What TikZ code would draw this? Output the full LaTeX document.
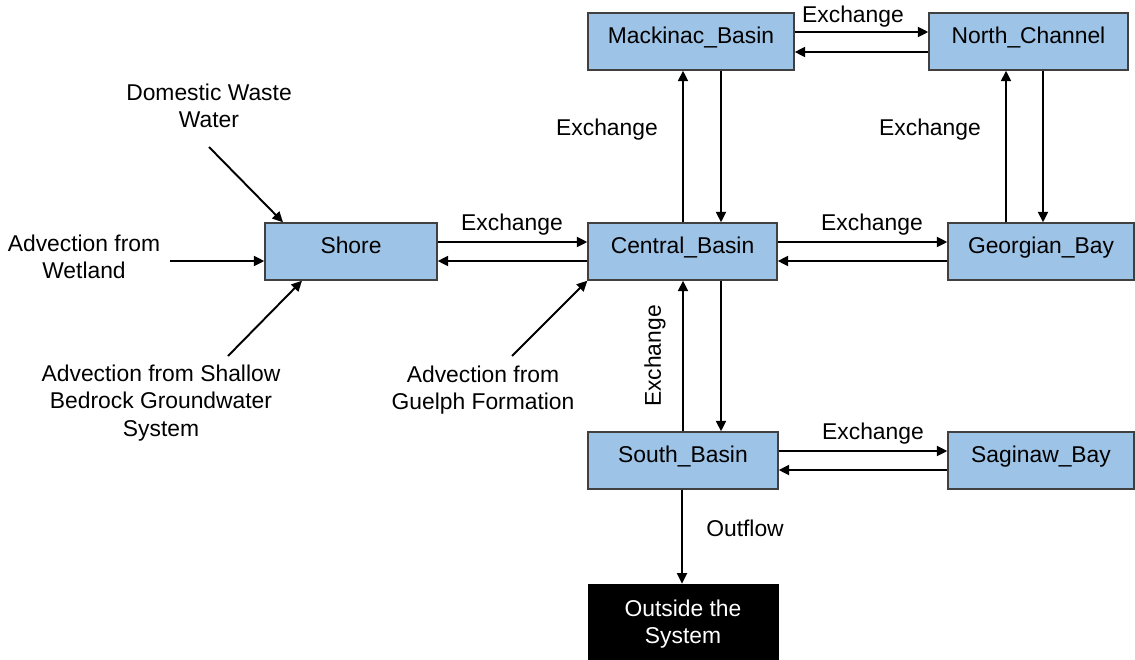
\documentclass[tikz,border=0pt]{standalone}
\usepackage{fontspec}
\setmainfont{Liberation Sans}
\usetikzlibrary{arrows.meta}
\definecolor{basin}{RGB}{157,195,230}
\tikzset{
  segment/.style={draw=black!75, line width=0.8pt, fill=basin, minimum height=1.14cm, inner sep=0pt,
    text height=9.5pt, text depth=6.8pt},
  flow/.style={-{Triangle[length=2.1mm,width=2mm]}, line width=1.1pt},
  lbl/.style={align=center, inner sep=0pt}
}
\begin{document}
\begin{tikzpicture}[x=0.02cm, y=-0.02cm, font=\fontsize{13}{15.5}\selectfont]
\useasboundingbox (0,0) rectangle (1135,659);
% compartments
\node[segment, minimum width=4.12cm] (mack) at (691,41.5) {Mackinac\_Basin};
\node[segment, minimum width=3.98cm] (north) at (1028.5,41.5) {North\_Channel};
\node[segment, minimum width=3.44cm] (shore) at (351,251.5) {Shore};
\node[segment, minimum width=3.78cm] (central) at (682.5,251.5) {Central\_Basin};
\node[segment, minimum width=3.72cm] (georgian) at (1041,251.5) {Georgian\_Bay};
\node[segment, minimum width=3.8cm] (south) at (683,460.5) {South\_Basin};
\node[segment, minimum width=3.72cm] (saginaw) at (1041,460.5) {Saginaw\_Bay};
\node[draw=black, fill=black, text=white, align=center, minimum width=3.8cm, minimum height=1.6cm, inner sep=0pt] (outside) at (683,624) {Outside the\\System};

% exchanges between compartments
\draw[flow] (mack.east |- 0,32) -- (north.west |- 0,32);
\draw[flow] (north.west |- 0,52) -- (mack.east |- 0,52);
\draw[flow] (central.north -| 683,0) -- (mack.south -| 683,0);
\draw[flow] (mack.south -| 721,0) -- (central.north -| 721,0);
\draw[flow] (georgian.north -| 1006,0) -- (north.south -| 1006,0);
\draw[flow] (north.south -| 1043,0) -- (georgian.north -| 1043,0);
\draw[flow] (shore.east |- 0,242) -- (central.west |- 0,242);
\draw[flow] (central.west |- 0,261) -- (shore.east |- 0,261);
\draw[flow] (central.east |- 0,242) -- (georgian.west |- 0,242);
\draw[flow] (georgian.west |- 0,261) -- (central.east |- 0,261);
\draw[flow] (south.north -| 683,0) -- (central.south -| 683,0);
\draw[flow] (central.south -| 721,0) -- (south.north -| 721,0);
\draw[flow] (south.east |- 0,451) -- (saginaw.west |- 0,451);
\draw[flow] (saginaw.west |- 0,470) -- (south.east |- 0,470);
\draw[flow] (south.south -| 682,0) -- (outside.north -| 682,0);

% loads from outside
\coordinate (dww) at (209,147);
\coordinate (wet) at (170,261);
\coordinate (shal) at (228,356);
\coordinate (guel) at (512,356);
\draw[flow] (dww) -- (shore.north -| 283,0);
\draw[flow] (wet) -- (shore.west |- 0,261);
\draw[flow] (shal) -- (shore.south -| 302,0);
\draw[flow] (guel) -- (central.south west);

% labels
\node[lbl] (ex1) at (853,17) {Exchange};
\node[lbl] (ex2) at (607,130) {Exchange};
\node[lbl] (ex3) at (930,130) {Exchange};
\node[lbl] (ex4) at (512,225) {Exchange};
\node[lbl] (ex5) at (872,225) {Exchange};
\node[lbl, rotate=90] (ex6) at (655,356) {Exchange};
\node[lbl] (ex7) at (873,434) {Exchange};
\node[lbl] (out) at (745,528) {Outflow};
\node[lbl] (ldww) at (209,106) {Domestic Waste\\Water};
\node[lbl] (lwet) at (84,257) {Advection from\\Wetland};
\node[lbl] (lshal) at (161,403) {Advection from Shallow\\Bedrock Groundwater\\System};
\node[lbl] (lguel) at (483,390) {Advection from\\Guelph Formation};
\end{tikzpicture}
\end{document}
